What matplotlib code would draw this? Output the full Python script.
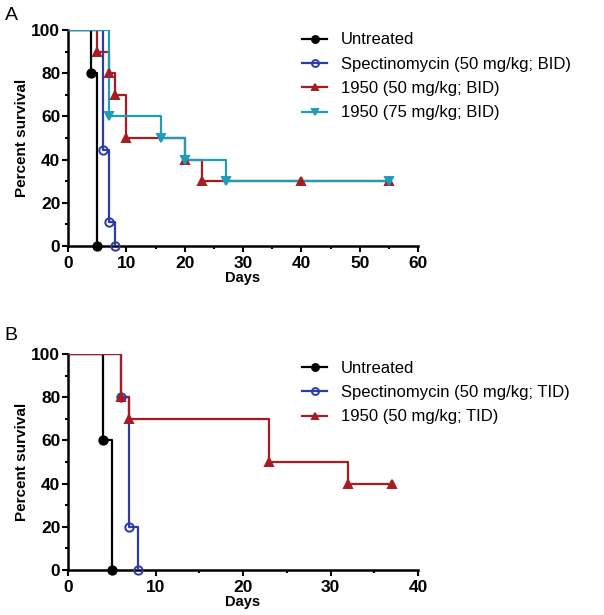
import numpy as np
import matplotlib
matplotlib.use("Agg")
import matplotlib.pyplot as plt

plt.rcParams['font.family'] = ['Liberation Sans', 'DejaVu Sans']

# Panel A (BID)
a_labels = ['Untreated', 'Spectinomycin (50 mg/kg; BID)', '1950 (50 mg/kg; BID)', '1950 (75 mg/kg; BID)']
a_times = [
    [0, 4, 5],
    [0, 6, 7, 8],
    [0, 5, 7, 8, 10, 20, 23, 55],
    [0, 7, 16, 20, 27, 55],
]
a_surv = [
    [100, 80, 0],
    [100, 44.4, 11.1, 0],
    [100, 90, 80, 70, 50, 40, 30, 30],
    [100, 60, 50, 40, 30, 30],
]
a_cens_t = [[], [], [40], []]
a_cens_s = [[], [], [30], []]

# Panel B (TID)
b_labels = ['Untreated', 'Spectinomycin (50 mg/kg; TID)', '1950 (50 mg/kg; TID)']
b_times = [
    [0, 4, 5],
    [0, 6, 7, 8],
    [0, 6, 7, 23, 32, 37],
]
b_surv = [
    [100, 60, 0],
    [100, 80, 20, 0],
    [100, 80, 70, 50, 40, 40],
]

colors = ['#000000', '#2b3ba8', '#a51d22', '#1f9db8']
markers = ['o', 'o', '^', 'v']
faces = ['#000000', 'none', '#a51d22', '#1f9db8']


def draw_panel(ax, labels, times, surv, cens_t, cens_s, order):
    handles = []
    for i in order:
        c = colors[i]
        t = times[i]
        s = surv[i]
        ax.step(t, s, where='post', color=c, lw=1.6, zorder=2 + i)
        ax.plot(t[1:], s[1:], ls='none', marker=markers[i], ms=6,
                mfc=faces[i], mec=c, mew=1.4, zorder=3 + i, clip_on=False)
        if cens_t and cens_t[i]:
            ax.plot(cens_t[i], cens_s[i], ls='none', marker=markers[i], ms=6,
                    mfc=faces[i], mec=c, mew=1.4, zorder=3 + i)
    for i in range(len(labels)):
        h, = ax.plot([], [], color=colors[i], lw=1.6, marker=markers[i], ms=5,
                     mfc=faces[i], mec=colors[i], mew=1.4, label=labels[i])
        handles.append(h)
    for sp in ['top', 'right']:
        ax.spines[sp].set_visible(False)
    for sp in ['left', 'bottom']:
        ax.spines[sp].set_linewidth(1.8)
    ax.set_ylim(0, 100)
    ax.set_yticks([0, 20, 40, 60, 80, 100])
    ax.set_yticks(np.arange(10, 100, 20), minor=True)
    ax.tick_params(which='major', length=4, width=1.5, labelsize=12.5, pad=1.5)
    ax.tick_params(which='minor', length=2.5, width=1.5)
    ax.tick_params(axis='x', pad=3)
    for lab in ax.get_xticklabels() + ax.get_yticklabels():
        lab.set_fontweight('bold')
    ax.set_xlabel('Days', fontsize=10.5, fontweight='bold', labelpad=0)
    ax.set_ylabel('Percent survival', fontsize=11, fontweight='bold', labelpad=2)
    return handles


fig = plt.figure(figsize=(6.04, 6.15), dpi=100)
axA = fig.add_axes([0.1126, 0.6, 0.5795, 0.351])
axB = fig.add_axes([0.1126, 0.0732, 0.5795, 0.351])

axA.set_xlim(0, 60)
axA.set_xticks(np.arange(0, 61, 10))
axA.set_xticks(np.arange(5, 60, 10), minor=True)
hA = draw_panel(axA, a_labels, a_times, a_surv, a_cens_t, a_cens_s, [3, 2, 1, 0])
axA.legend(handles=hA, loc='upper left', bbox_to_anchor=(0.65, 1.02), frameon=False,
           fontsize=12, handlelength=1.5, labelspacing=0.56, borderaxespad=0)

axB.set_xlim(0, 40)
axB.set_xticks(np.arange(0, 41, 10))
axB.set_xticks(np.arange(5, 40, 10), minor=True)
hB = draw_panel(axB, b_labels, b_times, b_surv, None, None, [2, 1, 0])
axB.legend(handles=hB, loc='upper left', bbox_to_anchor=(0.65, 1.0), frameon=False,
           fontsize=12, handlelength=1.5, labelspacing=0.56, borderaxespad=0)

fig.text(0.008, 0.975, 'A', fontsize=14, va='center')
fig.text(0.008, 0.455, 'B', fontsize=14, va='center')

fig.savefig('out.png', dpi=100)
